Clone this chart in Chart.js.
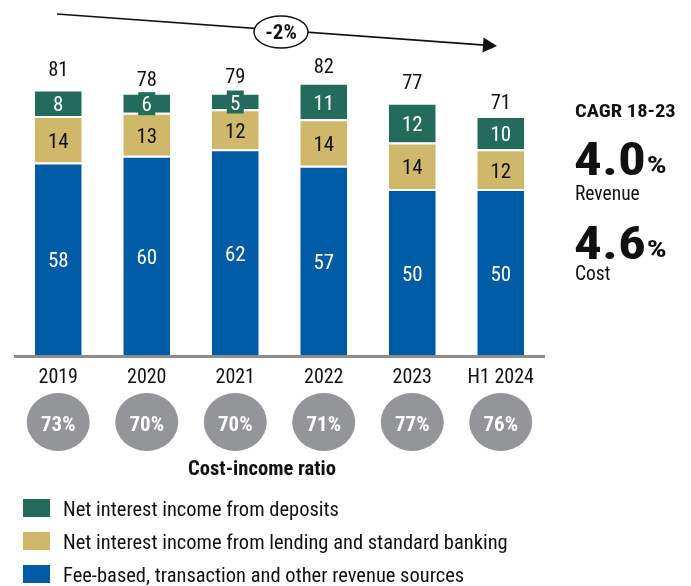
<!DOCTYPE html>
<html>
<head>
<meta charset="utf-8">
<script src="https://cdn.jsdelivr.net/npm/chart.js@4"></script>
<style>
  html, body { margin: 0; padding: 0; background: #fff; }
  #wrap { position: relative; width: 691px; height: 586px; }
</style>
</head>
<body>
<div id="wrap"><canvas id="revChart" width="691" height="586"></canvas></div>
<script>
const years = ["2019", "2020", "2021", "2022", "2023", "H1 2024"];
const feeBased = [58, 60, 62, 57, 50, 50];
const lending = [14, 13, 12, 14, 14, 12];
const deposits = [8, 6, 5, 11, 12, 10];
const totals = [81, 78, 79, 82, 77, 71];
const costIncome = ["73%", "70%", "70%", "71%", "77%", "76%"];
const legendLabels = [
  "Net interest income from deposits",
  "Net interest income from lending and standard banking",
  "Fee-based, transaction and other revenue sources"
];

const GREEN = "#236b5a";
const YELLOW = "#cfb86a";
const BLUE = "#005ba5";
const GREY = "#939598";
const FONT = "'Roboto Condensed', 'Liberation Sans Narrow', 'Arial Narrow', 'DejaVu Sans Condensed', Roboto, sans-serif";

// draws text, sx stretches it sideways a bit (reference bold face is wider)
function txt(ctx, s, x, y, size, opts) {
  opts = opts || {};
  const sx = opts.sx || 1;
  ctx.save();
  ctx.font = (opts.bold ? "bold " : "") + size + "px " + FONT;
  ctx.fillStyle = opts.color || "#111";
  ctx.textAlign = opts.align || "left";
  ctx.textBaseline = "alphabetic";
  ctx.translate(x, y);
  ctx.scale(sx, 1);
  ctx.fillText(s, 0, 0);
  const w = ctx.measureText(s).width * sx;
  ctx.restore();
  return w;
}

const extras = {
  id: "extras",
  afterDraw(chart) {
    const ctx = chart.ctx;
    const xs = chart.scales.x;
    const ys = chart.scales.y;
    const base = ys.getPixelForValue(0);
    ctx.save();

    // axis line
    ctx.strokeStyle = "#8c8c8c";
    ctx.lineWidth = 3;
    ctx.beginPath();
    ctx.moveTo(chart.chartArea.left, base + 1.5);
    ctx.lineTo(chart.chartArea.right, base + 1.5);
    ctx.stroke();

    // segment labels
    const segColors = ["#fff", "#111", "#fff"];
    chart.data.datasets.forEach((ds, di) => {
      const meta = chart.getDatasetMeta(di);
      meta.data.forEach((el, i) => {
        const cy = (el.y + el.base) / 2 + 1;
        const h = Math.abs(el.base - el.y);
        if (di === 2 && h < 24) {
          ctx.fillStyle = GREEN;
          ctx.fillRect(el.x - 8.5, cy - 11.5, 17, 23);
        }
        txt(ctx, String(ds.data[i]), el.x, cy + 7.5, 21, { align: "center", color: segColors[di] });
      });
    });

    // totals
    totals.forEach((t, i) => {
      const x = xs.getPixelForValue(i);
      txt(ctx, String(t), x, ys.getPixelForValue(t) - 10, 20.5, { align: "center" });
    });

    // years and cost-income circles
    years.forEach((y, i) => {
      const x = xs.getPixelForValue(i);
      txt(ctx, y, x, 383, 20, { align: "center" });
      ctx.fillStyle = GREY;
      ctx.beginPath();
      ctx.ellipse(x, 422, 31.5, 29, 0, 0, Math.PI * 2);
      ctx.fill();
      txt(ctx, costIncome[i], x, 430.5, 20, { bold: true, align: "center", color: "#fff", sx: 1.05 });
    });
    txt(ctx, "Cost-income ratio", 262, 474.5, 20, { bold: true, align: "center", sx: 1.03 });

    // trend arrow
    const x0 = 57, y0 = 14, x1 = 497, y1 = 46;
    const ang = Math.atan2(y1 - y0, x1 - x0);
    ctx.strokeStyle = "#111";
    ctx.lineWidth = 1.6;
    ctx.beginPath();
    ctx.moveTo(x0, y0);
    ctx.lineTo(x1 - 12 * Math.cos(ang), y1 - 12 * Math.sin(ang));
    ctx.stroke();
    ctx.fillStyle = "#111";
    ctx.beginPath();
    ctx.moveTo(x1, y1);
    ctx.lineTo(x1 - 14 * Math.cos(ang) + 7.5 * Math.sin(ang), y1 - 14 * Math.sin(ang) - 7.5 * Math.cos(ang));
    ctx.lineTo(x1 - 14 * Math.cos(ang) - 7.5 * Math.sin(ang), y1 - 14 * Math.sin(ang) + 7.5 * Math.cos(ang));
    ctx.closePath();
    ctx.fill();
    ctx.fillStyle = "#fff";
    ctx.beginPath();
    ctx.ellipse(281, 32, 27, 16, 0, 0, Math.PI * 2);
    ctx.fill();
    ctx.lineWidth = 1.5;
    ctx.stroke();
    txt(ctx, "-2%", 281, 39, 20, { bold: true, align: "center", sx: 1.05 });

    // CAGR panel
    txt(ctx, "CAGR 18-23", 575, 116.5, 19, { bold: true, sx: 1.08 });
    let w = txt(ctx, "4.0", 574, 175, 46, { bold: true, sx: 1.2 });
    txt(ctx, "%", 574 + w + 1, 173, 24, { bold: true, sx: 1.3 });
    txt(ctx, "Revenue", 575, 200, 19.5);
    w = txt(ctx, "4.6", 574, 258.5, 46, { bold: true, sx: 1.2 });
    txt(ctx, "%", 574 + w + 1, 256.5, 24, { bold: true, sx: 1.3 });
    txt(ctx, "Cost", 575, 280, 19.5);

    // legend
    const legColors = [GREEN, YELLOW, BLUE];
    const legY = [499, 532, 565];
    const legBase = [516, 548.5, 582];
    legendLabels.forEach((l, i) => {
      ctx.fillStyle = legColors[i];
      ctx.fillRect(23, legY[i], 27, 18);
      txt(ctx, l, 63, legBase[i], 20.5);
    });

    ctx.restore();
  }
};

new Chart(document.getElementById("revChart"), {
  type: "bar",
  data: {
    labels: years,
    datasets: [
      { label: legendLabels[2], data: feeBased, backgroundColor: BLUE },
      { label: legendLabels[1], data: lending, backgroundColor: YELLOW },
      { label: legendLabels[0], data: deposits, backgroundColor: GREEN }
    ]
  },
  options: {
    responsive: false,
    animation: false,
    layout: { padding: { left: 14, right: 146, top: 23, bottom: 231 } },
    datasets: {
      bar: {
        barPercentage: 0.53,
        categoryPercentage: 1,
        borderColor: "#fff",
        borderWidth: { top: 2, left: 0, right: 0, bottom: 0 },
        borderSkipped: "start"
      }
    },
    scales: {
      x: { stacked: true, display: false },
      y: { stacked: true, display: false, min: 0, max: 100 }
    },
    plugins: { legend: { display: false }, tooltip: { enabled: false } }
  },
  plugins: [extras]
});
</script>
</body>
</html>
